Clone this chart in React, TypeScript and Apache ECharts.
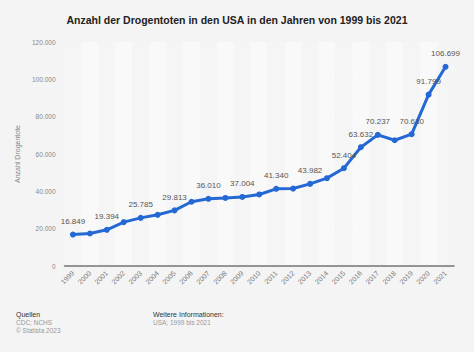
import React, { useEffect, useRef } from "react";
import * as echarts from "echarts";

const years = ["1999","2000","2001","2002","2003","2004","2005","2006","2007","2008","2009","2010","2011","2012","2013","2014","2015","2016","2017","2018","2019","2020","2021"];
const deaths = [16849,17415,19394,23518,25785,27424,29813,34425,36010,36450,37004,38329,41340,41502,43982,47055,52404,63632,70237,67367,70630,91799,106699];
const labelled = [true,false,true,false,true,false,true,false,true,false,true,false,true,false,true,false,true,true,true,false,true,true,true];
const yTicks = [0, 20000, 40000, 60000, 80000, 100000, 120000];

const fmt = (v: number) => String(Math.round(v)).replace(/\B(?=(\d{3})+(?!\d))/g, ".");
const FONT = "Liberation Sans, Arial, sans-serif";

export default function App() {
  const ref = useRef<HTMLDivElement>(null);
  useEffect(() => {
    document.body.style.margin = "0";
    const chart = echarts.init(ref.current!, null, { renderer: "svg" });
    chart.setOption({
      animation: false,
      backgroundColor: "#f4f4f4",
      textStyle: { fontFamily: FONT },
      title: {
        text: "Anzahl der Drogentoten in den USA in den Jahren von 1999 bis 2021",
        left: "center",
        top: 9,
        textStyle: { fontSize: 10.5, fontWeight: "bold", color: "#222", fontFamily: FONT },
      },
      grid: { left: 64.5, right: 20, top: 42, bottom: 86 },
      xAxis: {
        type: "category",
        data: years,
        boundaryGap: true,
        axisLine: { show: true, lineStyle: { color: "#777", width: 1.5 } },
        axisTick: { show: false },
        axisLabel: { rotate: 45, fontSize: 7, color: "#777", margin: 6, interval: 0 },
        splitArea: { show: true, areaStyle: { color: ["#f5f5f5", "#f9f9f9"] } },
      },
      yAxis: {
        type: "value",
        min: yTicks[0],
        max: yTicks[yTicks.length - 1],
        interval: 20000,
        name: "Anzahl Drogentote",
        nameLocation: "middle",
        nameRotate: 90,
        nameGap: 36,
        nameTextStyle: { fontSize: 7, color: "#888" },
        axisLine: { show: false },
        axisTick: { show: false },
        axisLabel: { fontSize: 6.5, color: "#888", margin: 9, formatter: (v: number) => fmt(v) },
        splitLine: { lineStyle: { color: "#e6e6e6", width: 1 } },
      },
      series: [
        {
          type: "line",
          data: deaths.map((v, i) => ({
            value: v,
            label: { show: labelled[i] },
          })),
          lineStyle: { color: "#2468d4", width: 3 },
          itemStyle: { color: "#2468d4" },
          symbol: "circle",
          symbolSize: 6,
          label: {
            position: "top",
            distance: 6,
            fontSize: 8,
            color: "#555",
            formatter: (p: any) => fmt(p.value),
          },
        },
      ],
      graphic: [
        { type: "text", left: 16, top: 311, style: { text: "Quellen", fontSize: 7, fill: "#333", fontFamily: FONT } },
        { type: "text", left: 16, top: 319, style: { text: "CDC; NCHS", fontSize: 6.5, fill: "#999", fontFamily: FONT } },
        { type: "text", left: 16, top: 327, style: { text: "© Statista 2023", fontSize: 6.5, fill: "#999", fontFamily: FONT } },
        { type: "text", left: 153, top: 311, style: { text: "Weitere Informationen:", fontSize: 7, fill: "#333", fontFamily: FONT } },
        { type: "text", left: 153, top: 319, style: { text: "USA; 1999 bis 2021", fontSize: 6.5, fill: "#999", fontFamily: FONT } },
      ],
    });
    return () => chart.dispose();
  }, []);
  return <div ref={ref} style={{ width: 474, height: 352 }} />;
}
